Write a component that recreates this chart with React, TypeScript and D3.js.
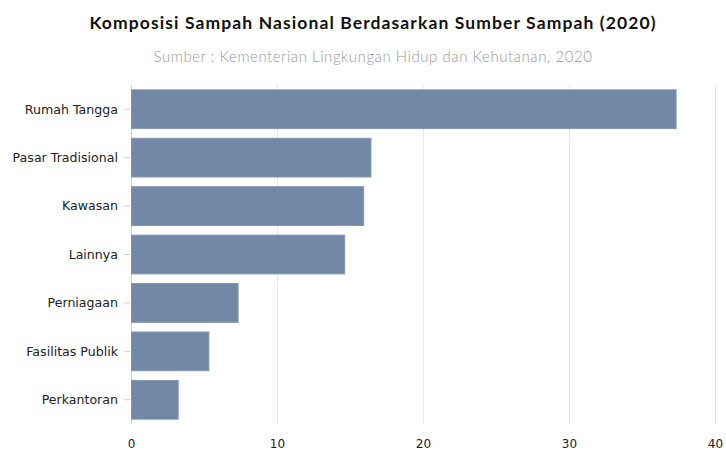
import React from "react";
import * as d3 from "d3";

const categories = ["Rumah Tangga", "Pasar Tradisional", "Kawasan", "Lainnya", "Perniagaan", "Fasilitas Publik", "Perkantoran"];
const values = [37.3, 16.4, 15.9, 14.6, 7.3, 5.3, 3.2];
const xTicks = [0, 10, 20, 30, 40];
const title = "Komposisi Sampah Nasional Berdasarkan Sumber Sampah (2020)";
const subtitle = "Sumber : Kementerian Lingkungan Hidup dan Kehutanan, 2020";

const W = 726, H = 458;
const left = 131.5, right = 715.5, top = 85, bottom = 424;

export default function App() {
  const x = d3.scaleLinear().domain([0, 40]).range([left, right]);
  const y = d3.scaleBand<string>().domain(categories).range([top, bottom]).paddingInner(0.2).paddingOuter(0.1);
  const font = "'DejaVu Sans', Verdana, sans-serif";
  return (
    <svg width={W} height={H} style={{ position: "absolute", left: 0, top: 0 }}>
      <rect width={W} height={H} fill="#fff" />
      <text x={373} y={28.5} textAnchor="middle" fontFamily="Lato, 'Open Sans', sans-serif" fontWeight={700} fontSize={17.5} letterSpacing={1.1} fill="#111">{title}</text>
      <text x={373} y={62} textAnchor="middle" fontFamily="Lato, 'Open Sans', sans-serif" fontWeight={300} fontSize={15} letterSpacing={0.55} fill="#999">{subtitle}</text>
      {xTicks.map((t) => (
        <g key={t}>
          {t !== 0 && <line x1={x(t)} x2={x(t)} y1={top} y2={bottom} stroke="#e8e8e8" strokeWidth={1} />}
          <text x={x(t)} y={448} textAnchor="middle" fontFamily={font} fontSize={12} fill="#222">{t}</text>
        </g>
      ))}
      <line x1={left} x2={left} y1={top} y2={bottom} stroke="#d0d0d0" strokeWidth={1} />
      {categories.map((c, i) => {
        const cy = (y(c) as number) + y.bandwidth() / 2;
        return (
          <g key={c}>
            <line x1={124} x2={130} y1={cy} y2={cy} stroke="#d0d0d0" strokeWidth={1} />
            <text x={118} y={cy} dy="0.35em" textAnchor="end" fontFamily={font} fontSize={12.6} fill="#222">{c}</text>
            <rect x={x(0)} y={y(c) as number} width={x(values[i]) - x(0)} height={y.bandwidth()} fill="#7189a5" stroke="#8596ad" strokeWidth={1} />
          </g>
        );
      })}
    </svg>
  );
}
